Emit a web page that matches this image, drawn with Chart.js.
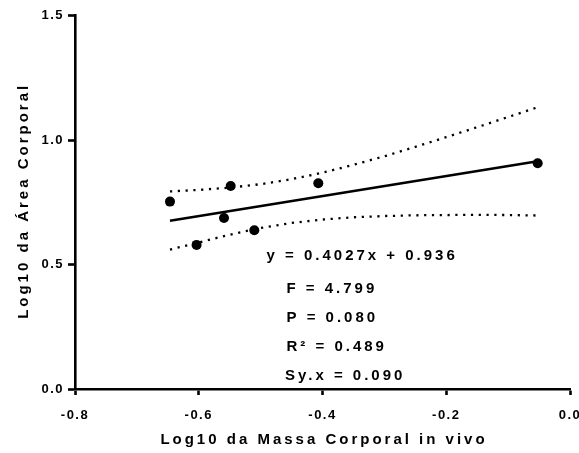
<!DOCTYPE html>
<html>
<head>
<meta charset="utf-8">
<script src="https://cdn.jsdelivr.net/npm/chart.js@4.4.1/dist/chart.umd.min.js"></script>
<style>
  html, body { margin: 0; padding: 0; background: #fff; }
  #wrap { width: 579px; height: 453px; }
</style>
</head>
<body>
<div id="wrap"><canvas id="regressionChart" width="579" height="453"></canvas></div>
<script>
// regression-chart - Log10 area vs Log10 mass

// ==================== data ====================

// measured points
const massX = [-0.6465, -0.6035, -0.5592, -0.5484, -0.5102, -0.4068, -0.0522];
const areaY = [0.753, 0.579, 0.687, 0.816, 0.638, 0.827, 0.907];

// fitted line ends
const fitX = [-0.6465, -0.0522];
const fitY = [0.676, 0.915];

// 95% band (dotted)
const bandX = [-0.6465, -0.6, -0.55, -0.5, -0.45, -0.4, -0.35, -0.3, -0.25, -0.2, -0.15, -0.1, -0.0522];
const bandUpper = [0.794, 0.8, 0.809, 0.823, 0.843, 0.869, 0.901, 0.935, 0.973, 1.012, 1.052, 1.093, 1.132];
const bandLower = [0.56, 0.589, 0.62, 0.647, 0.667, 0.681, 0.69, 0.695, 0.698, 0.699, 0.7, 0.699, 0.697];

// axes
const xTicks = [-0.8, -0.6, -0.4, -0.2, 0.0];
const yTicks = [0.0, 0.5, 1.0, 1.5];
const xTitle = 'Log10 da Massa Corporal in vivo';
const yTitle = 'Log10 da Área Corporal';

// stats box
const statLines = ['y = 0.4027x + 0.936', 'F = 4.799', 'P = 0.080', 'R² = 0.489', 'Sy.x = 0.090'];

// ==================== layout ====================

const FONT = '"Liberation Sans", Arial, sans-serif';
const STAT_POS = [[266.5, 260], [286.5, 293], [286.5, 322], [286.5, 351], [285, 380]];

const toPoints = (xs, ys) => xs.map((x, i) => ({ x: x, y: ys[i] }));

// letter spacing + titles + stats text
const textPlugin = {
  id: 'textPlugin',
  beforeDraw(chart) {
    chart.ctx.letterSpacing = '1.5px';
  },
  afterDraw(chart) {
    const ctx = chart.ctx;
    const area = chart.chartArea;
    ctx.save();
    ctx.fillStyle = '#000';
    ctx.font = 'bold 15px ' + FONT;
    ctx.letterSpacing = '3px';
    ctx.textBaseline = 'alphabetic';
    ctx.textAlign = 'center';

    // axis titles
    ctx.fillText(xTitle, (area.left + area.right) / 2 + 1.5, 444);
    ctx.save();
    ctx.translate(27.5, (area.top + area.bottom) / 2);
    ctx.rotate(-Math.PI / 2);
    ctx.fillText(yTitle, 1.5, 0);
    ctx.restore();

    // stats
    ctx.textAlign = 'left';
    statLines.forEach((line, i) => {
      ctx.fillText(line, STAT_POS[i][0], STAT_POS[i][1]);
    });
    ctx.restore();
  },
};

function createRegressionChart() {
  const ctx = document.getElementById('regressionChart');
  if (!ctx) return;

  const dotted = {
    showLine: true,
    borderColor: '#000',
    borderWidth: 2.3,
    borderDash: [2.2, 5.6],
    pointRadius: 0,
    fill: false,
  };

  new Chart(ctx.getContext('2d'), {
    type: 'scatter',
    data: {
      datasets: [
        {
          label: 'dados',
          data: toPoints(massX, areaY),
          pointRadius: 5,
          pointBackgroundColor: '#000',
          pointBorderWidth: 0,
          order: 0,
        },
        {
          label: 'ajuste',
          data: toPoints(fitX, fitY),
          showLine: true,
          borderColor: '#000',
          borderWidth: 2.6,
          pointRadius: 0,
          order: 1,
        },
        Object.assign({ label: 'sup', data: toPoints(bandX, bandUpper), order: 2 }, dotted),
        Object.assign({ label: 'inf', data: toPoints(bandX, bandLower), order: 3 }, dotted),
      ],
    },
    options: {
      responsive: false,
      animation: false,
      layout: { padding: { top: 15.7, right: 9, left: 0, bottom: 0 } },
      plugins: {
        legend: { display: false },
        tooltip: { enabled: false },
      },
      scales: {
        x: {
          type: 'linear',
          min: -0.8,
          max: 0,
          afterBuildTicks: (scale) => {
            scale.ticks = xTicks.map((v) => ({ value: v }));
          },
          afterFit: (scale) => {
            scale.height = 64;
            scale.paddingLeft = 0;
            scale.paddingRight = 0;
          },
          border: { display: true, color: '#000', width: 2.6 },
          grid: {
            drawOnChartArea: false,
            drawTicks: true,
            tickLength: 6,
            tickWidth: 2.6,
            tickColor: '#000',
          },
          ticks: {
            color: '#000',
            padding: 13,
            maxRotation: 0,
            autoSkip: false,
            font: { family: FONT, size: 13, weight: 'bold' },
            callback: (value) => Number(value).toFixed(1),
          },
        },
        y: {
          type: 'linear',
          min: 0,
          max: 1.5,
          afterBuildTicks: (scale) => {
            scale.ticks = yTicks.map((v) => ({ value: v }));
          },
          afterFit: (scale) => {
            scale.width = 75;
            scale.paddingTop = 0;
            scale.paddingBottom = 0;
          },
          border: { display: true, color: '#000', width: 2.6 },
          grid: {
            drawOnChartArea: false,
            drawTicks: true,
            tickLength: 7,
            tickWidth: 2.6,
            tickColor: '#000',
          },
          ticks: {
            color: '#000',
            padding: 4,
            autoSkip: false,
            font: { family: FONT, size: 13, weight: 'bold' },
            callback: (value) => Number(value).toFixed(1),
          },
        },
      },
    },
    plugins: [textPlugin],
  });
}

createRegressionChart();
</script>
</body>
</html>
